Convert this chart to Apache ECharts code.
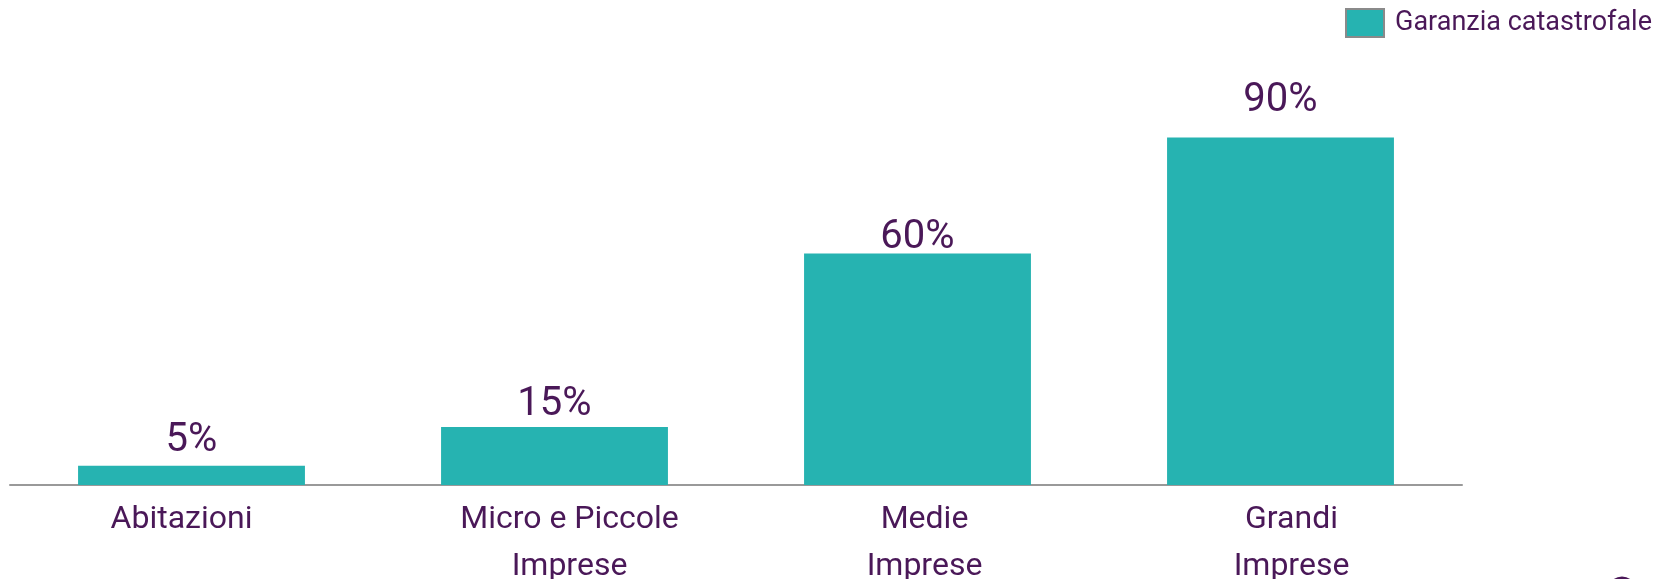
<!DOCTYPE html>
<html>
<head>
<meta charset="utf-8">
<script src="https://cdn.jsdelivr.net/npm/echarts@6/dist/echarts.min.js"></script>
<style>html,body{margin:0;padding:0;background:#fff;}#c{width:1657px;height:579px;}</style>
</head>
<body>
<div id="c"></div>
<script>
const categories = ['Abitazioni', 'Micro e Piccole\nImprese', 'Medie\nImprese', 'Grandi\nImprese'];
const seriesName = 'Garanzia catastrofale';
const values = [5, 15, 60, 90];

// style only: label offsets above each bar, horizontal shift of category labels
const labelDistance = [5, 2, -5, 17];
const catLabelShift = [-10, 15, 7, 11];

const textColor = '#4A1858';
const chart = echarts.init(document.getElementById('c'));
chart.setOption({
  animation: false,
  textStyle: { fontFamily: 'Roboto' },
  legend: {
    right: 0, top: 3,
    icon: 'rect',
    itemWidth: 38, itemHeight: 28, itemGap: 10,
    textStyle: { color: textColor, fontSize: 27, fontFamily: 'Roboto', padding: [0, 0, 0, 6] },
    itemStyle: { borderColor: '#8a8a8a', borderWidth: 2 },
    data: [seriesName]
  },
  graphic: [{
    type: 'circle', silent: true,
    shape: { cx: 1622, cy: 591, r: 13 },
    style: { fill: 'none', stroke: '#4A1858', lineWidth: 3 }
  }],
  grid: { left: 10, right: 195, top: 99, bottom: 94, containLabel: false, outerBoundsMode: 'none' },
  xAxis: {
    type: 'category',
    data: categories.map((c, i) => {
      const s = catLabelShift[i];
      return { value: c, textStyle: { padding: s >= 0 ? [0, 0, 0, 2 * s] : [0, -2 * s, 0, 0] } };
    }),
    axisLine: { show: true, lineStyle: { color: '#999999', width: 2 } },
    axisTick: { show: false },
    axisLabel: { color: textColor, fontSize: 32, lineHeight: 47, margin: 11, interval: 0 }
  },
  yAxis: {
    type: 'value', min: 0, max: 100,
    show: false,
    splitLine: { show: false }
  },
  series: [{
    name: seriesName,
    type: 'bar',
    data: values.map((v, i) => ({ value: v, label: { distance: labelDistance[i] } })),
    barCategoryGap: '37.5%',
    itemStyle: { color: '#26B3B1' },
    label: {
      show: true, position: 'top',
      formatter: '{c}%',
      color: textColor, fontSize: 40
    }
  }]
});
</script>
</body>
</html>
